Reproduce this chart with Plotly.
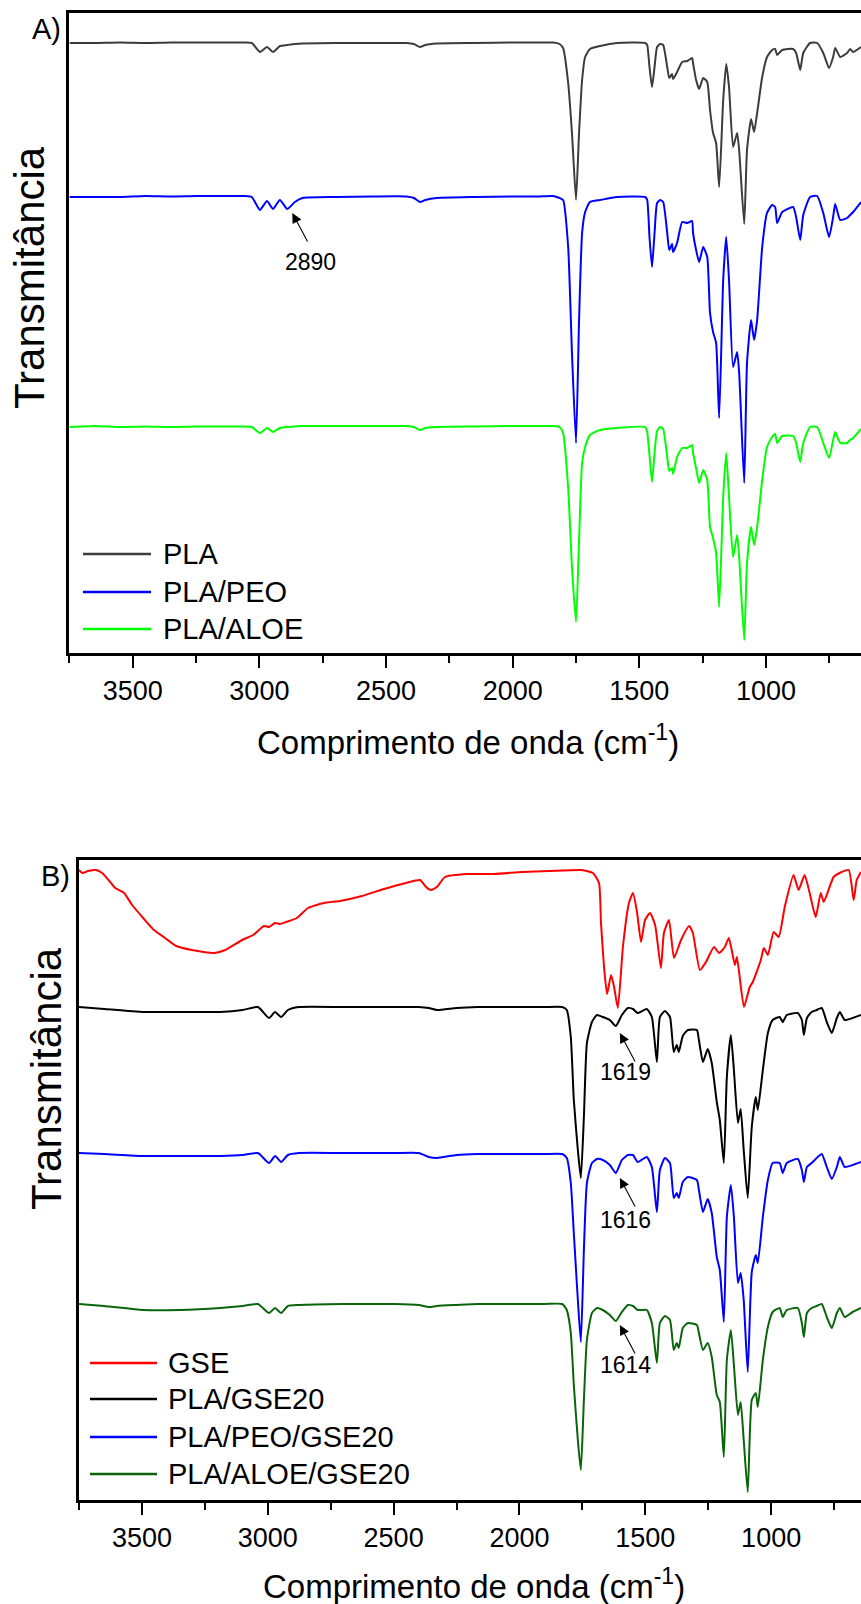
import plotly.graph_objects as go

W, H = 861, 1604
FONT = "Liberation Sans, Arial, sans-serif"

# ---------------- Panel A data (wavenumber cm-1, transmittance a.u.) ----------------
wn_a = [3750, 3650, 3550, 3450, 3350, 3250, 3150, 3060, 3030, 2998, 2970, 2946, 2919, 2890,
        2860, 2830, 2700, 2550, 2420, 2390, 2366, 2345, 2300, 2150, 2000, 1900, 1840, 1815,
        1801, 1781, 1766, 1750, 1738, 1726, 1714, 1695, 1655, 1588,
        1477, 1469, 1460, 1450, 1440, 1430, 1418, 1406, 1390, 1382,
        1371, 1367, 1351, 1331, 1311, 1292, 1288, 1276, 1264, 1248,
        1232, 1221, 1209, 1197, 1185, 1169, 1157, 1146, 1130, 1114,
        1106, 1086, 1075, 1059, 1047, 1035, 1015, 996, 976, 964,
        956, 936, 893, 881, 865, 853, 826, 798, 774, 751,
        735, 727, 707, 680, 668, 656, 625]

pla = [610, 610, 610.5, 610, 610.5, 610.5, 610.5, 610.5, 610, 601, 606, 601, 607, 608,
       609, 609.5, 610, 610, 610, 609, 606, 608, 609.5, 610, 610.5, 610.5, 610.5, 609,
       605, 570, 520, 453, 520, 573, 596, 604, 607, 610,
       610, 608, 586, 566, 586, 606, 609, 608, 586, 575,
       579, 574, 581, 591, 592, 595, 590, 573, 564, 575,
       571, 543, 520, 510, 466, 553, 589, 566, 506, 520,
       503, 429, 503, 534, 521, 540, 576, 596, 603, 604,
       598, 603, 604, 600, 583, 600, 610, 610, 600, 585,
       596, 605, 596, 600, 604, 601, 606]

pla_peo = [456, 456, 456, 457, 456.5, 457, 457, 457, 456, 443, 452, 444, 453, 444,
           451, 455, 456, 456.5, 456.5, 455, 451, 453, 455, 456, 456.5, 456.5, 457, 455,
           453, 406, 300, 210, 333, 420, 441, 451, 453, 456,
           456, 453, 416, 386, 420, 450, 453, 451, 420, 403,
           409, 401, 410, 431, 430, 432, 420, 403, 391, 406,
           396, 340, 321, 310, 235, 373, 416, 373, 286, 301,
           280, 170, 290, 333, 313, 333, 406, 440, 448, 446,
           430, 441, 446, 436, 413, 438, 456, 457, 440, 416,
           436, 449, 433, 435, 438, 441, 451]

pla_aloe = [226, 227, 226, 226.5, 226, 226.5, 226.5, 226.5, 226, 220, 225, 221, 225, 226,
            226.5, 227, 227, 227, 227, 226, 223, 225, 226, 226.5, 227, 227, 227, 226,
            220, 165, 86, 31, 113, 190, 206, 218, 223, 225,
            226, 221, 198, 171, 200, 222, 226, 224, 196, 182,
            185, 179, 196, 205, 205, 208, 200, 185, 170, 183,
            173, 126, 115, 100, 46, 156, 200, 156, 96, 118,
            96, 13, 90, 126, 108, 126, 173, 206, 216, 219,
            210, 217, 217, 210, 191, 210, 226, 226, 210, 195,
            213, 221, 210, 210, 213, 215, 224]

# ---------------- Panel B data ----------------
wn_gse = [3750, 3737, 3714, 3682, 3658, 3626, 3606, 3571, 3539, 3495,
          3452, 3408, 3364, 3301, 3213, 3169, 3102, 3058, 3015, 2995,
          2971, 2951, 2927, 2884, 2840, 2777, 2713, 2626, 2538, 2451,
          2395, 2371, 2352, 2328, 2296, 2209, 2101, 1990, 1883, 1752,
          1708, 1684, 1676, 1664, 1652, 1636, 1624, 1609, 1589, 1565,
          1549, 1533, 1517, 1501, 1481, 1461, 1438, 1426, 1406, 1386,
          1358, 1326, 1311, 1283, 1259, 1227, 1207, 1184, 1168, 1144,
          1136, 1108, 1085, 1073, 1041, 1029, 1013, 990, 970, 946,
          911, 891, 867, 847, 823, 803, 791, 752, 728, 692,
          672, 660, 643]

gse = [630, 627, 629, 630, 627, 618, 612, 607, 595, 582,
       570, 562, 554, 550, 547, 550, 560, 565, 574, 573,
       577, 576, 578, 582, 592, 597, 599, 604, 611, 617,
       620, 613, 610, 613, 623, 626, 626, 628, 629, 630,
       627, 617, 577, 533, 506, 525, 513, 492, 553, 597,
       607, 588, 558, 580, 587, 575, 532, 567, 580, 542,
       560, 574, 567, 530, 538, 553, 547, 553, 562, 535,
       543, 493, 513, 518, 540, 552, 545, 568, 563, 593,
       625, 610, 625, 607, 583, 607, 598, 623, 627, 630,
       600, 620, 628]

wn_b = [3750, 3650, 3495, 3350, 3189, 3100, 3039, 2995, 2971, 2947, 2920, 2876,
        2700, 2500, 2400, 2360, 2328, 2250, 2165, 2000, 1900, 1830,
        1812, 1796, 1784, 1768, 1756, 1744, 1732, 1712, 1692, 1669,
        1641, 1617, 1593, 1569, 1549, 1530, 1494, 1474, 1454, 1442,
        1422, 1402, 1387, 1375, 1367, 1351, 1331, 1295, 1287, 1271,
        1252, 1236, 1216, 1204, 1188, 1176, 1160, 1148, 1132, 1121,
        1109, 1093, 1077, 1061, 1053, 1033, 1013, 994, 966, 954,
        938, 894, 878, 870, 858, 839, 819, 799, 779, 759,
        739, 727, 708, 676, 643]

pla_gse20 = [493, 491, 488, 488, 488, 490, 493, 482, 488, 483, 490, 493,
             493, 493, 493, 492, 490, 492, 493, 493, 493, 493,
             490, 463, 400, 350, 322, 383, 457, 478, 485, 483,
             480, 474, 485, 492, 491, 487, 491, 483, 438, 483,
             489, 483, 448, 455, 448, 464, 470, 470, 460, 438,
             451, 437, 398, 380, 337, 423, 465, 430, 377, 391,
             350, 302, 373, 403, 390, 430, 467, 480, 483, 478,
             485, 487, 480, 465, 482, 488, 490, 492, 478, 467,
             482, 488, 480, 482, 485]

pla_peo_gse20 = [347, 346, 344, 344, 344, 345, 347, 337, 344, 338, 345, 347,
                 347, 347, 347, 343, 342, 345, 346, 346, 346, 346,
                 342, 317, 267, 200, 158, 250, 317, 337, 341, 340,
                 335, 327, 340, 345, 345, 338, 343, 333, 288, 330,
                 342, 337, 302, 307, 302, 318, 323, 320, 310, 288,
                 301, 287, 243, 230, 178, 283, 315, 283, 217, 227,
                 200, 128, 228, 245, 237, 283, 320, 337, 337, 327,
                 337, 341, 330, 318, 333, 337, 342, 346, 333, 321,
                 333, 343, 333, 335, 338]

pla_aloe_gse20 = [196, 194, 190, 190, 192, 194, 196, 187, 192, 187, 194, 195,
                  196, 196, 195, 193, 194, 195, 196, 196, 196, 196,
                  190, 167, 115, 60, 30, 100, 160, 187, 192, 190,
                  185, 179, 188, 195, 194, 190, 190, 177, 137, 177,
                  184, 180, 150, 157, 152, 172, 177, 175, 167, 150,
                  157, 143, 105, 98, 43, 140, 170, 135, 85, 98,
                  60, 8, 100, 107, 93, 140, 173, 188, 192, 183,
                  190, 192, 177, 163, 187, 192, 194, 196, 183, 172,
                  187, 192, 183, 188, 192]

tick_vals = [3500, 3000, 2500, 2000, 1500, 1000]
tick_text = ["3500", "3000", "2500", "2000", "1500", "1000"]
minor_vals = [3750, 3250, 2750, 2250, 1750, 1250, 750]

series_a = [("PLA", wn_a, pla, "#3c3c3c"),
            ("PLA/PEO", wn_a, pla_peo, "#0000ff"),
            ("PLA/ALOE", wn_a, pla_aloe, "#00ff00")]
series_b = [("GSE", wn_gse, gse, "#ff0000"),
            ("PLA/GSE20", wn_b, pla_gse20, "#000000"),
            ("PLA/PEO/GSE20", wn_b, pla_peo_gse20, "#0000ff"),
            ("PLA/ALOE/GSE20", wn_b, pla_aloe_gse20, "#0a650a")]

fig = go.Figure()
for name, xs, ys, col in series_a:
    fig.add_trace(go.Scatter(x=xs, y=ys, mode="lines", name=name, showlegend=False,
                             line=dict(color=col, width=2, shape="spline", smoothing=0.5),
                             xaxis="x", yaxis="y"))
for name, xs, ys, col in series_b:
    fig.add_trace(go.Scatter(x=xs, y=ys, mode="lines", name=name, showlegend=False,
                             line=dict(color=col, width=2, shape="spline", smoothing=0.5),
                             xaxis="x2", yaxis="y2"))

def px(v):
    return v / W

def py(v):
    return 1 - v / H

def xax(domain, rng, anchor):
    return dict(domain=domain, range=rng, anchor=anchor, tickmode="array",
                tickvals=tick_vals, ticktext=tick_text, ticks="outside", ticklen=12,
                tickwidth=2, tickcolor="black", showline=True, linewidth=2.5,
                linecolor="black", mirror=True, showgrid=False, zeroline=False,
                tickfont=dict(family=FONT, size=27, color="black"),
                ticklabelstandoff=0,
                minor=dict(tickmode="array", tickvals=minor_vals,
                           ticks="outside", ticklen=7, tickwidth=2, tickcolor="black",
                           showgrid=False),
                automargin=False)

def yax(domain, anchor):
    return dict(domain=domain, range=[0, 640], anchor=anchor, showline=True,
                linewidth=2.5, linecolor="black", mirror=False, ticks="",
                showticklabels=False, showgrid=False, zeroline=False, automargin=False)

annotations = []
shapes = []

# axis titles and panel labels
for xc, yc in [(468, 740), (474, 1584)]:
    annotations.append(dict(text="Comprimento de onda (cm<sup>-1</sup>)", xref="paper",
                            yref="paper", x=px(xc), y=py(yc), xanchor="center",
                            yanchor="middle", showarrow=False,
                            font=dict(family=FONT, size=33, color="black")))
for xc, yc in [(29, 278), (46, 1079)]:
    annotations.append(dict(text="Transmitância", xref="paper", yref="paper", x=px(xc),
                            y=py(yc), xanchor="center", yanchor="middle", textangle=-90,
                            showarrow=False, font=dict(family=FONT, size=42, color="black")))
for txt, xc, yc in [("A)", 46, 29), ("B)", 55, 876)]:
    annotations.append(dict(text=txt, xref="paper", yref="paper", x=px(xc), y=py(yc),
                            xanchor="center", yanchor="middle", showarrow=False,
                            font=dict(family=FONT, size=29, color="black")))

# legends
leg_a_rows = [554, 592, 629]
for (name, _, _, col), yr in zip(series_a, leg_a_rows):
    shapes.append(dict(type="line", xref="paper", yref="paper", x0=px(83), x1=px(151),
                       y0=py(yr), y1=py(yr), line=dict(color=col, width=2.5)))
    annotations.append(dict(text=name, xref="paper", yref="paper", x=px(161), y=py(yr),
                            xanchor="left", yanchor="middle", showarrow=False,
                            font=dict(family=FONT, size=29, color="black")))
leg_b_rows = [1363, 1399, 1437, 1474]
for (name, _, _, col), yr in zip(series_b, leg_b_rows):
    shapes.append(dict(type="line", xref="paper", yref="paper", x0=px(90), x1=px(157),
                       y0=py(yr), y1=py(yr), line=dict(color=col, width=2.5)))
    annotations.append(dict(text=name, xref="paper", yref="paper", x=px(166), y=py(yr),
                            xanchor="left", yanchor="middle", showarrow=False,
                            font=dict(family=FONT, size=29, color="black")))

# peak annotations: (label, axis, tip wn, tip value, text wn, text value)
peak_notes = [("2890", "", 2870, 440, 2800, 391),
              ("1619", "2", 1601, 467, 1577, 428),
              ("1616", "2", 1601, 322, 1577, 280),
              ("1614", "2", 1601, 175, 1577, 135)]
for lab, ax_id, tx, ty, lx, ly in peak_notes:
    annotations.append(dict(text="", xref="x" + ax_id, yref="y" + ax_id, x=tx, y=ty,
                            ax=16, ay=30, showarrow=True, arrowhead=2, arrowsize=1.8,
                            arrowwidth=1.1, arrowcolor="black", standoff=0))
    annotations.append(dict(text=lab, xref="x" + ax_id, yref="y" + ax_id, x=lx, y=ly,
                            xanchor="center", yanchor="middle", showarrow=False,
                            font=dict(family=FONT, size=23, color="black")))

fig.update_layout(
    width=W, height=H, margin=dict(l=0, r=0, t=0, b=0, pad=0),
    paper_bgcolor="white", plot_bgcolor="white",
    xaxis=xax([px(69.4), 1], [3750, 625], "y"),
    yaxis=yax([py(653), py(13)], "x"),
    xaxis2=xax([px(79), 1], [3750, 643], "y2"),
    yaxis2=yax([py(1500), py(860)], "x2"),
    annotations=annotations, shapes=shapes, showlegend=False,
)

fig.write_html("out.html")
